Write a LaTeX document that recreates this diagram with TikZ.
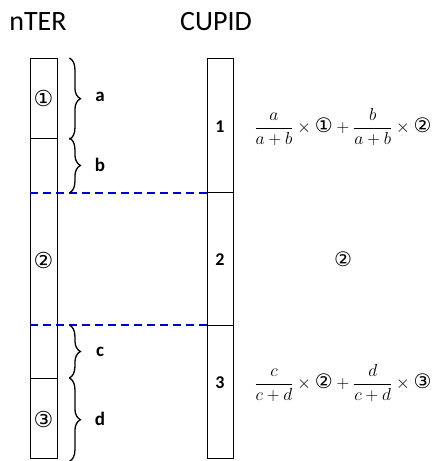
\documentclass[tikz,border=0pt]{standalone}
\usepackage{fix-cm}
\usepackage{fontspec}
\setmainfont{Carlito}
\newfontfamily\dejavu{DejaVu Sans}
\usetikzlibrary{decorations.pathreplacing,calc}
\newcommand{\cnum}[1]{\mbox{\fontsize{20}{22}\selectfont\dejavu #1}}
\tikzset{
  colbox/.style={draw, line width=1.4pt, inner sep=0pt, anchor=north west},
  bluedash/.style={draw=blue!80!black, line width=2pt, dash pattern=on 8pt off 5pt},
  bracestyle/.style={draw, line width=1.3pt, decorate, decoration={brace, amplitude=11pt}},
  lbl/.style={font=\fontsize{19}{22}\selectfont\bfseries},
  num/.style={font=\fontsize{18}{20}\selectfont\bfseries},
  ttl/.style={font=\fontsize{28}{32}\selectfont},
  frm/.style={font=\fontsize{17.5}{20}\selectfont},
  circ/.style={font=\fontsize{22}{24}\selectfont\dejavu}
}
\begin{document}
\begin{tikzpicture}[x=1pt,y=-1pt]
\useasboundingbox (0,0) rectangle (435,461);
% titles
\node[ttl] (t1) at (38,22) {nTER};
\node[ttl] (t2) at (216,22) {CUPID};
% nTER column
\node[colbox, minimum width=27pt, minimum height=80pt] (n1) at (30,58) {};
\node[colbox, minimum width=27pt, minimum height=240pt] (n2) at (30,138) {};
\node[colbox, minimum width=27pt, minimum height=80pt] (n3) at (30,378) {};
\node[circ] (l1) at (43.5,98) {①};
\node[circ] (l2) at (43.5,260) {②};
\node[circ] (l3) at (43.5,419) {③};
% CUPID column
\node[colbox, minimum width=26.5pt, minimum height=133.5pt] (c1) at (206.5,58) {};
\node[colbox, minimum width=26.5pt, minimum height=133.5pt] (c2) at (206.5,191.5) {};
\node[colbox, minimum width=26.5pt, minimum height=133pt] (c3) at (206.5,325) {};
\node[num] (k1) at (220,127) {1};
\node[num] (k2) at (220,260) {2};
\node[num] (k3) at (220,383) {3};
% dashed lines
\draw[bluedash] (n2.west |- c1.south west) -- (c1.south west);
\draw[bluedash] (n2.west |- c3.north west) -- (c3.north west);
% braces
\draw[bracestyle] ($(n1.north east)+(11,0)$) -- ($(n1.south east)+(11,0)$);
\draw[bracestyle] ($(n2.north east)+(11,0)$) -- ($(n2.east |- c1.south)+(11,0)$);
\draw[bracestyle] ($(n2.east |- c3.north)+(11,0)$) -- ($(n3.north east)+(11,0)$);
\draw[bracestyle] ($(n3.north east)+(11,0)$) -- ($(n3.south east)+(11,2)$);
\node[lbl] (a) at (100,97) {a};
\node[lbl] (b) at (100,165) {b};
\node[lbl] (c) at (100,352) {c};
\node[lbl] (d) at (100,419) {d};
% formulas
\node[frm] (f1) at (343,127) {$\displaystyle \frac{a}{a+b}\times\cnum{①}+\frac{b}{a+b}\times\cnum{②}$};
\node[frm] (f2) at (343,259) {\cnum{②}};
\node[frm] (f3) at (343,383) {$\displaystyle \frac{c}{c+d}\times\cnum{②}+\frac{d}{c+d}\times\cnum{③}$};
\end{tikzpicture}
\end{document}
